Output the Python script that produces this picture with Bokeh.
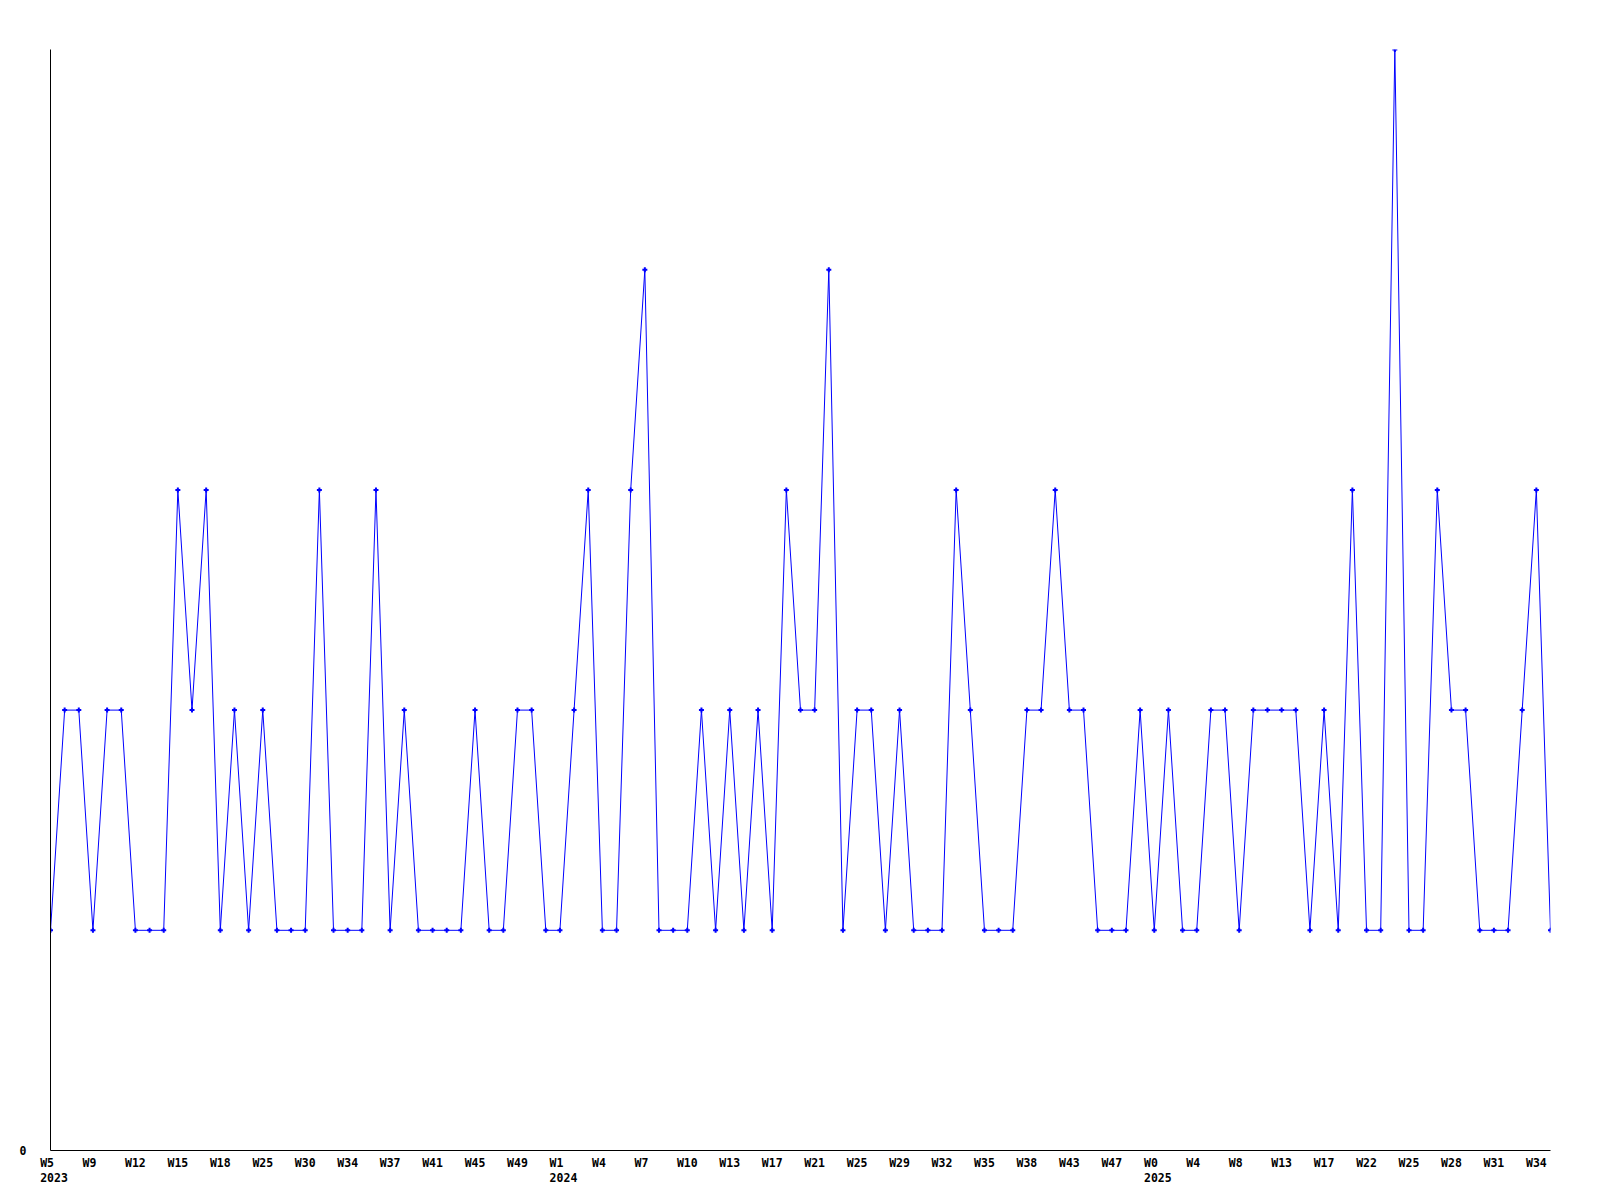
from bokeh.plotting import figure
from bokeh.models import Range1d, FixedTicker
from bokeh.embed import file_html
from bokeh.resources import INLINE

# weekly counts (one point per reported week)
counts = [
    1, 2, 2, 1, 2, 2, 1, 1, 1, 3,
    2, 3, 1, 2, 1, 2, 1, 1, 1, 3,
    1, 1, 1, 3, 1, 2, 1, 1, 1, 1,
    2, 1, 1, 2, 2, 1, 1, 2, 3, 1,
    1, 3, 4, 1, 1, 1, 2, 1, 2, 1,
    2, 1, 3, 2, 2, 4, 1, 2, 2, 1,
    2, 1, 1, 1, 3, 2, 1, 1, 1, 2,
    2, 3, 2, 2, 1, 1, 1, 2, 1, 2,
    1, 1, 2, 2, 1, 2, 2, 2, 2, 1,
    2, 1, 3, 1, 1, 5, 1, 1, 3, 2,
    2, 1, 1, 1, 2, 3, 1,
]

# labels shown on every third point
tick_weeks = [
    "W5", "W9", "W12", "W15", "W18", "W25", "W30", "W34", "W37", "W41", "W45", "W49",
    "W1", "W4", "W7", "W10", "W13", "W17", "W21", "W25", "W29", "W32", "W35", "W38", "W43",
    "W47", "W0", "W4", "W8", "W13", "W17", "W22", "W25", "W28", "W31", "W34",
]
tick_years = [""] * len(tick_weeks)
tick_years[0] = "2023"
tick_years[12] = "2024"
tick_years[26] = "2025"
LABEL_EVERY = 3

n = len(counts)
xs = list(range(n))

p = figure(width=1592, height=1192, output_backend="svg", toolbar_location=None,
           x_range=Range1d(0, n - 1), y_range=Range1d(0, 5),
           min_border_left=50, min_border_right=42,
           min_border_top=49, min_border_bottom=42)
p.outline_line_color = None
p.xgrid.visible = False
p.ygrid.visible = False
p.background_fill_color = "white"
p.border_fill_color = "white"

p.line(xs, counts, line_color="#0000ff", line_width=1)
p.scatter(xs, counts, marker="cross", size=5, line_width=2, line_color="#0000ff")

# labels are left-aligned a little before their point; emulate with
# no-break-space padding to a common width (monospace font)
NB = "\u00a0"
ticks = []
overrides = {}
for i, (w, yr) in enumerate(zip(tick_weeks, tick_years)):
    pos = i * LABEL_EVERY
    if yr:
        width = max(len(w), len(yr))
        txt = w + NB * (width - len(w)) + "\n" + yr
        pos = pos + 0.25
    else:
        txt = w + NB * (3 - len(w))
    ticks.append(pos)
    overrides[pos] = txt

font = "DejaVu Sans Mono"
fsize = "11.5px"

xa = p.xaxis[0]
xa.ticker = FixedTicker(ticks=ticks)
xa.major_label_overrides = overrides
xa.major_label_text_font = font
xa.major_label_text_font_size = fsize
xa.major_label_text_font_style = "bold"
xa.major_label_text_color = "black"
xa.major_label_text_line_height = 1.1
xa.major_label_standoff = 5
xa.major_tick_line_color = None
xa.minor_tick_line_color = None
xa.major_tick_out = 0
xa.minor_tick_out = 0
xa.major_tick_in = 0
xa.axis_line_color = "black"
xa.axis_line_width = 1

ya = p.yaxis[0]
ya.ticker = FixedTicker(ticks=[0])
ya.major_label_text_font = font
ya.major_label_text_font_size = fsize
ya.major_label_text_font_style = "bold"
ya.major_label_text_color = "black"
ya.major_label_standoff = 24
ya.major_tick_line_color = None
ya.minor_tick_line_color = None
ya.major_tick_out = 0
ya.minor_tick_out = 0
ya.major_tick_in = 0
ya.axis_line_color = "black"
ya.axis_line_width = 1

open("out.html", "w").write(file_html(p, INLINE))
